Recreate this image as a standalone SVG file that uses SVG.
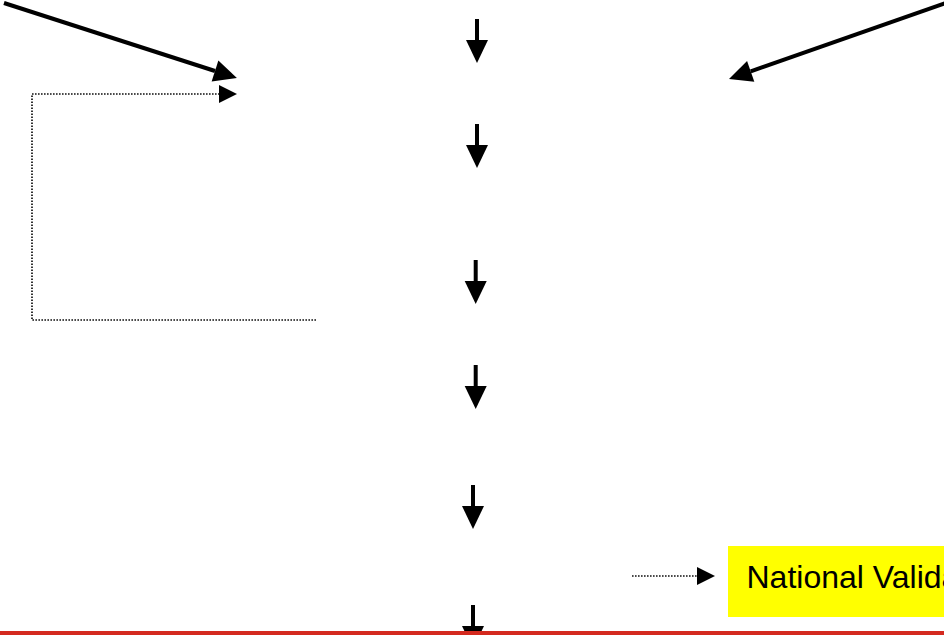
<svg xmlns="http://www.w3.org/2000/svg" width="944" height="635" viewBox="0 0 944 635">
  <style>
    .solid { stroke: #000; stroke-width: 4; fill: none; marker-end: url(#head); }
    .dot { stroke: #111; stroke-width: 1.7; stroke-dasharray: 1.6 1.4; fill: none; }
    .label { font-family: "Liberation Sans", Arial, sans-serif; font-size: 32px; fill: #000; }
  </style>
  <defs>
    <marker id="head" markerUnits="userSpaceOnUse" markerWidth="23" markerHeight="22" refX="0" refY="11" orient="auto" overflow="visible">
      <path d="M0,0 L23,11 L0,22 Z" fill="#000"/>
    </marker>
    <marker id="dothead" markerUnits="userSpaceOnUse" markerWidth="18" markerHeight="18" refX="0" refY="9" orient="auto" overflow="visible">
      <path d="M0,0 L18,9 L0,18 Z" fill="#000"/>
    </marker>
  </defs>
  <rect width="944" height="635" fill="#fff"/>
  <g id="connectors">
    <line class="solid" x1="4" y1="3" x2="215" y2="71"/>
    <line class="solid" x1="946" y1="3" x2="750.7" y2="71.4"/>
    <line class="solid" x1="477" y1="19" x2="477" y2="40"/>
    <line class="solid" x1="477" y1="124" x2="477" y2="145"/>
    <line class="solid" x1="475.7" y1="260" x2="475.7" y2="281"/>
    <line class="solid" x1="475.7" y1="365" x2="475.7" y2="386"/>
    <line class="solid" x1="473" y1="485" x2="473" y2="506"/>
    <line class="solid" x1="473" y1="605" x2="473" y2="626"/>
    <polyline class="dot" points="316,320 32,320 32,94 219,94" marker-end="url(#dothead)"/>
    <line class="dot" x1="632" y1="576" x2="697" y2="576" marker-end="url(#dothead)"/>
  </g>
  <g id="national-validation">
    <rect x="728" y="546" width="230" height="71" fill="#ffff00"/>
    <text class="label" x="746.5" y="588">National Valida</text>
  </g>
  <rect id="red-rule" x="0" y="631" width="944" height="4" fill="#d42a1f"/>
</svg>
